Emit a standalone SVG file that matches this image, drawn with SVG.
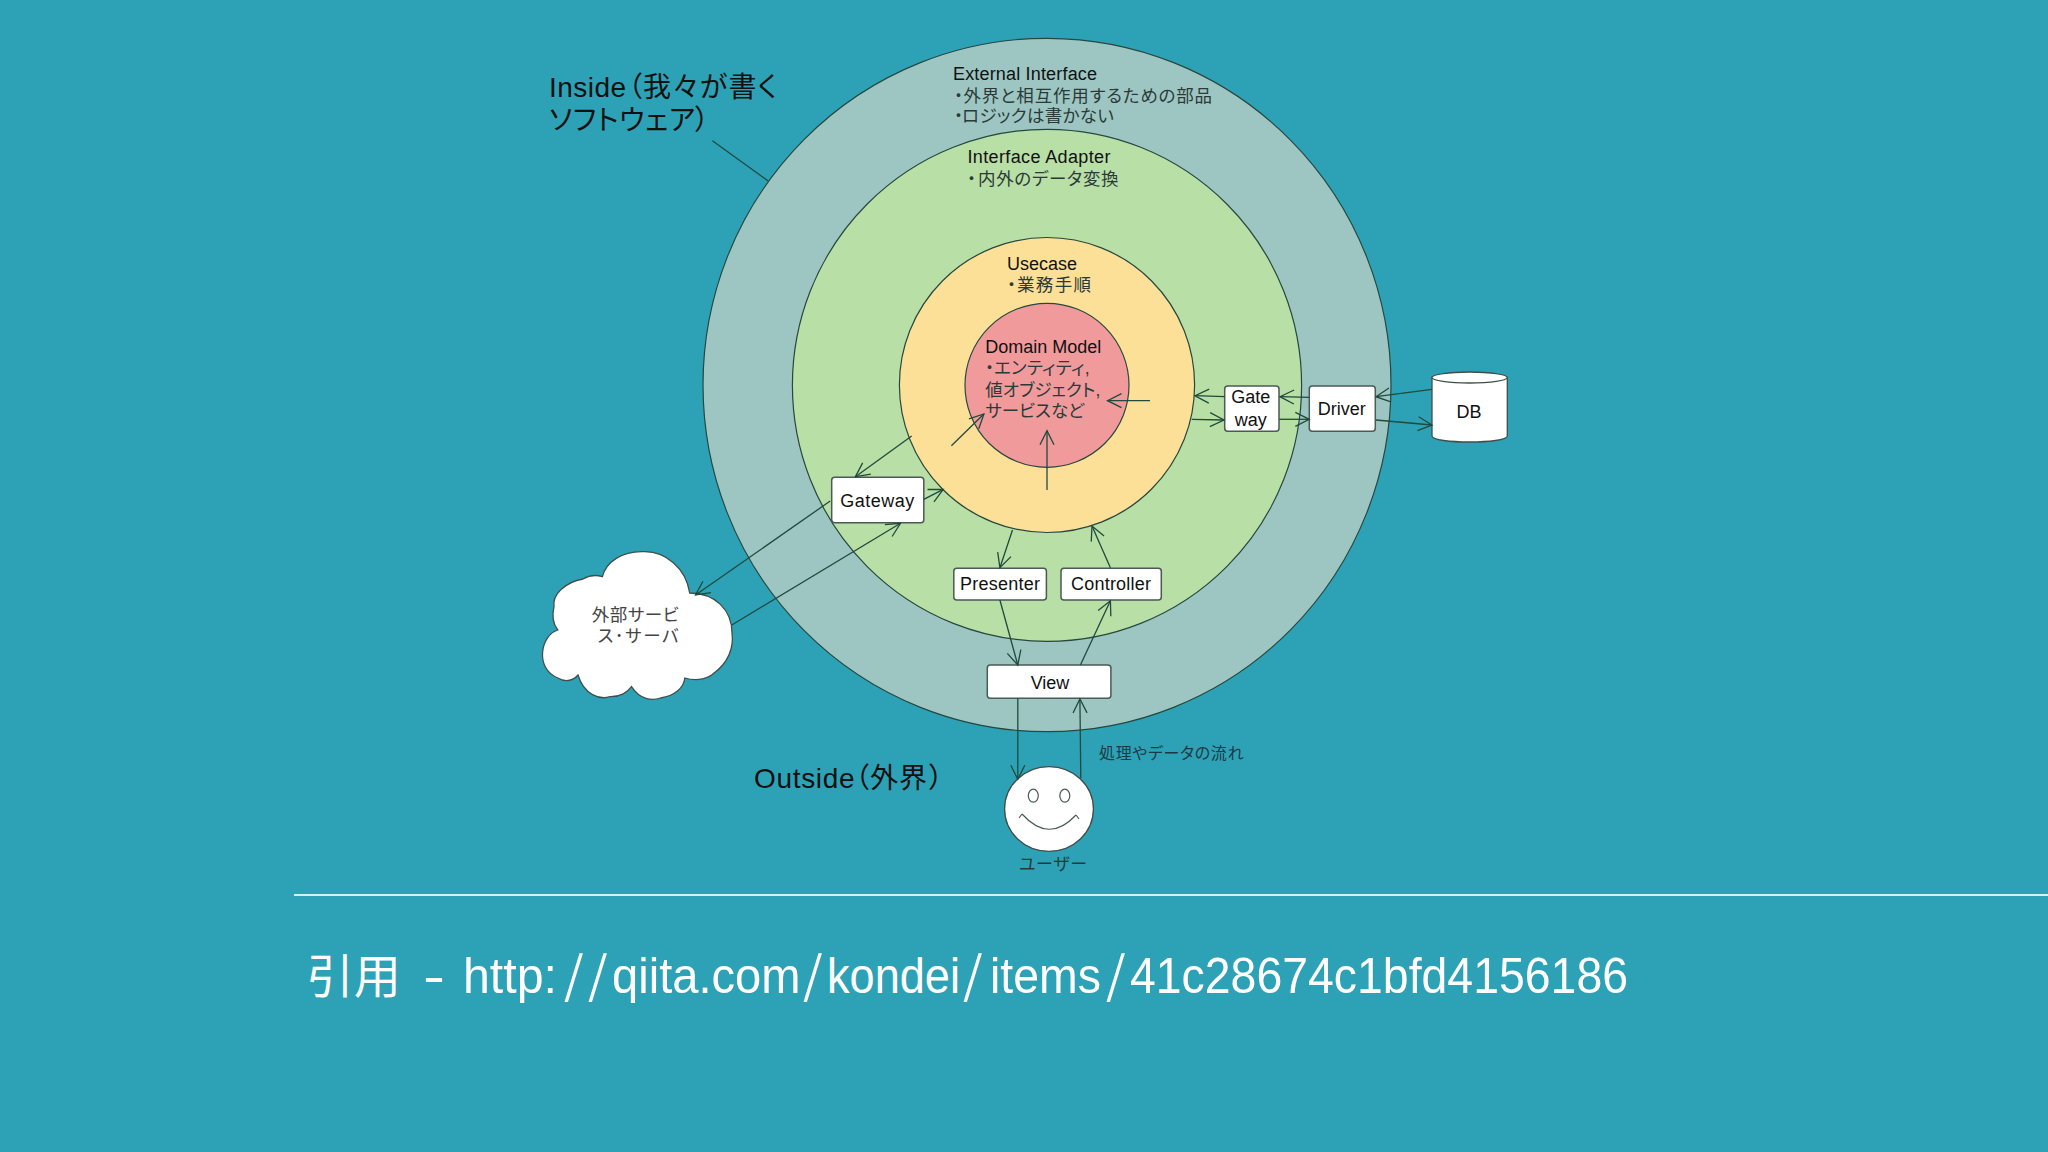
<svg xmlns="http://www.w3.org/2000/svg" width="2048" height="1152" viewBox="0 0 2048 1152">
<defs>
<marker id="a" markerUnits="userSpaceOnUse" markerWidth="20" markerHeight="20" refX="15" refY="8" orient="auto" overflow="visible"><path d="M1 1L15 8L1 15" fill="none" stroke="#1f4a3c" stroke-width="1.3"/></marker>
</defs>
<style>
text{font-family:"Liberation Sans","Noto Sans CJK JP",sans-serif;fill:#111;font-feature-settings:"palt"}
.ring{stroke:#26483f;stroke-width:1.2}
.box{fill:#fff;stroke:#4a5a55;stroke-width:1.5}
.l{font-size:18px}
.c{font-size:18px;text-anchor:middle}
.j{font-size:17.5px;fill:#2b3a38}
.big{font-size:28px}
.s{font-family:"Noto Sans CJK JP",sans-serif}
#connectors line{stroke:#1f4a3c;stroke-width:1.3;marker-end:url(#a)}
</style>
<rect width="2048" height="1152" fill="#2da2b6"/>
<g id="external-interface"><ellipse class="ring" cx="1047" cy="385" rx="344" ry="346.7" fill="#9dc6c2"/>
<text class="l" x="953" y="80" textLength="144">External Interface</text>
<text class="j" y="101.7"><tspan x="954">・</tspan><tspan x="963.5" textLength="248.5">外界と相互作用するための部品</tspan></text>
<text class="j" y="121.7"><tspan x="954">・</tspan><tspan x="962" textLength="151.8">ロジックは書かない</tspan></text></g>
<g id="interface-adapter"><ellipse class="ring" cx="1047" cy="385.3" rx="254.6" ry="256" fill="#b8dfa5"/>
<text class="l" x="967.4" y="163.3" textLength="143">Interface Adapter</text>
<text class="j" y="185"><tspan x="967">・</tspan><tspan x="978" textLength="140.6">内外のデータ変換</tspan></text></g>
<g id="usecase"><ellipse class="ring" cx="1047" cy="385" rx="147.6" ry="147.5" fill="#fde097"/>
<text class="l" x="1007" y="270" textLength="70">Usecase</text>
<text class="j" y="290.7"><tspan x="1007">・</tspan><tspan x="1017" textLength="74">業務手順</tspan></text></g>
<g id="domain-model"><ellipse class="ring" cx="1047" cy="385.3" rx="82" ry="82" fill="#f19a9c"/>
<text class="l" x="985.3" y="352.7" textLength="116">Domain Model</text>
<text class="j" y="374"><tspan x="985">・</tspan><tspan x="994" textLength="95.6">エンティティ,</tspan></text>
<text class="j" x="985.3" y="396" textLength="115">値オブジェクト,</text>
<text class="j" x="985.3" y="416.7" textLength="99">サービスなど</text></g>
<g id="inside-label"><text class="big" y="97.3"><tspan x="549" textLength="77">Inside</tspan><tspan x="628">（</tspan><tspan x="643" textLength="134">我々が書く</tspan></text>
<text class="big" y="130"><tspan x="549" textLength="146">ソフトウェア</tspan><tspan x="695">）</tspan></text>
<path d="M712.4 140.7L768.2 181" stroke="#1f4a3c" stroke-width="1.3" fill="none"/></g>
<g id="outside-label"><text class="big" y="787.7"><tspan x="754" textLength="100.5">Outside</tspan><tspan x="855">（</tspan><tspan x="870" textLength="57">外界</tspan><tspan x="929">）</tspan></text></g>
<g id="external-service"><path d="M557.8 630C541 635 534 668 557.8 678C566 683 574 680 578 675C584 695 600 700 610 696.7C620 697 628 692 631.5 686.7C640 700 652 701 660.6 698C674 696 684 688 684.8 678C698 682 709 678 714 673C728 663 734 648 732 633C732 610 715 593 689.7 593C686 568 665 551 643.6 551.7C622 551 606 562 602.4 576.7C594 574 588 576 583 579C565 582 552 595 554 606.7C552 615 553 624 557.8 630Z" fill="#fff" stroke="#3f4f4b" stroke-width="1.3"/>
<text class="j" x="591.7" y="620.7" textLength="87" style="fill:#444">外部サービ</text>
<text class="j" x="597.5" y="641.7" textLength="81" style="fill:#444">ス･サーバ</text></g>
<g id="gateway-left"><rect class="box" x="831.7" y="477.3" width="92.1" height="45.4" rx="3"/><text class="c" x="877.2" y="506.7" textLength="74">Gateway</text></g>
<g id="presenter"><rect class="box" x="953.8" y="568.3" width="92.6" height="31.7" rx="3"/><text class="c" x="1000" y="590" textLength="80">Presenter</text></g>
<g id="controller"><rect class="box" x="1061" y="568.3" width="100.3" height="31.7" rx="3"/><text class="c" x="1111" y="590" textLength="80">Controller</text></g>
<g id="view"><rect class="box" x="987.3" y="665" width="123.6" height="33.3" rx="3"/><text class="c" x="1050" y="689">View</text></g>
<g id="gateway-right"><rect class="box" x="1224.7" y="386" width="54.3" height="45.3" rx="3"/><text class="c" x="1250.7" y="403.3">Gate</text><text class="c" x="1250.7" y="426">way</text></g>
<g id="driver"><rect class="box" x="1309.3" y="386" width="66" height="45.3" rx="3"/><text class="c" x="1341.7" y="415">Driver</text></g>
<g id="db"><path d="M1432 377.5V436C1432 444 1507.3 444 1507.3 436V377.5Z" fill="#fff" stroke="#3f4f4b" stroke-width="1.3"/><ellipse cx="1469.6" cy="377.5" rx="37.7" ry="5.5" fill="#fff" stroke="#3f4f4b" stroke-width="1.3"/><text class="c" x="1469" y="418.3">DB</text></g>
<g id="user"><ellipse cx="1049" cy="809" rx="44.4" ry="42.3" fill="#fff" stroke="#3f4f4b" stroke-width="1.3"/>
<ellipse cx="1033.3" cy="795.7" rx="5" ry="6.5" fill="none" stroke="#4a5a55" stroke-width="1.2"/><ellipse cx="1064.8" cy="795.7" rx="5" ry="6.5" fill="none" stroke="#4a5a55" stroke-width="1.2"/>
<path d="M1019 818L1022 814M1022 814Q1049 844 1076 815M1076 815L1079 819" fill="none" stroke="#4a5a55" stroke-width="1.2"/>
<text x="1019" y="870" font-size="17" textLength="68" style="fill:#2b3a38">ユーザー</text></g>
<text x="1099" y="759" font-size="16" textLength="144.5" style="fill:#1d3a42">処理やデータの流れ</text>
<g id="connectors">
<line x1="1150" y1="400.7" x2="1107.5" y2="400.7"/>
<line x1="951.4" y1="445.7" x2="983.9" y2="414"/>
<line x1="1047" y1="490" x2="1047" y2="430.7"/>
<line x1="911.7" y1="436" x2="855.4" y2="476.7"/>
<line x1="923.8" y1="499.3" x2="943.2" y2="489.3"/>
<line x1="830.2" y1="501" x2="695.5" y2="595"/>
<line x1="731.8" y1="625" x2="900.5" y2="523.3"/>
<line x1="1012.5" y1="530" x2="999.9" y2="567.7"/>
<line x1="1110.4" y1="567.7" x2="1092" y2="526"/>
<line x1="999.9" y1="600" x2="1017.8" y2="665"/>
<line x1="1080.4" y1="665" x2="1110.4" y2="600.7"/>
<line x1="1017.8" y1="698.3" x2="1017.8" y2="779.3"/>
<line x1="1080.8" y1="778.3" x2="1079.9" y2="699"/>
<line x1="1224.7" y1="396.7" x2="1195" y2="395.7"/>
<line x1="1191.7" y1="419.3" x2="1224" y2="420"/>
<line x1="1309.3" y1="397.3" x2="1280" y2="396.7"/>
<line x1="1279.3" y1="419.3" x2="1309.3" y2="419.3"/>
<line x1="1432" y1="389.3" x2="1376" y2="396.7"/>
<line x1="1376" y1="420" x2="1432" y2="425"/>
</g>
<path d="M294 895H2048" stroke="#d6f1f4" stroke-width="2.2"/>
<text y="992" font-size="50" style="fill:#fff"><tspan x="306.8" y="993" font-size="47" textLength="94">引用</tspan> <tspan x="423" textLength="22" lengthAdjust="spacingAndGlyphs">-</tspan> <tspan x="463" textLength="94" lengthAdjust="spacingAndGlyphs">http:</tspan><tspan class="s" x="564">/</tspan><tspan class="s" x="588">/</tspan><tspan x="612" textLength="188.5" lengthAdjust="spacingAndGlyphs">qiita.com</tspan><tspan class="s" x="803">/</tspan><tspan x="827" textLength="133" lengthAdjust="spacingAndGlyphs">kondei</tspan><tspan class="s" x="963">/</tspan><tspan x="990" textLength="111" lengthAdjust="spacingAndGlyphs">items</tspan><tspan class="s" x="1106">/</tspan><tspan x="1130" textLength="498" lengthAdjust="spacingAndGlyphs">41c28674c1bfd4156186</tspan></text>
</svg>
